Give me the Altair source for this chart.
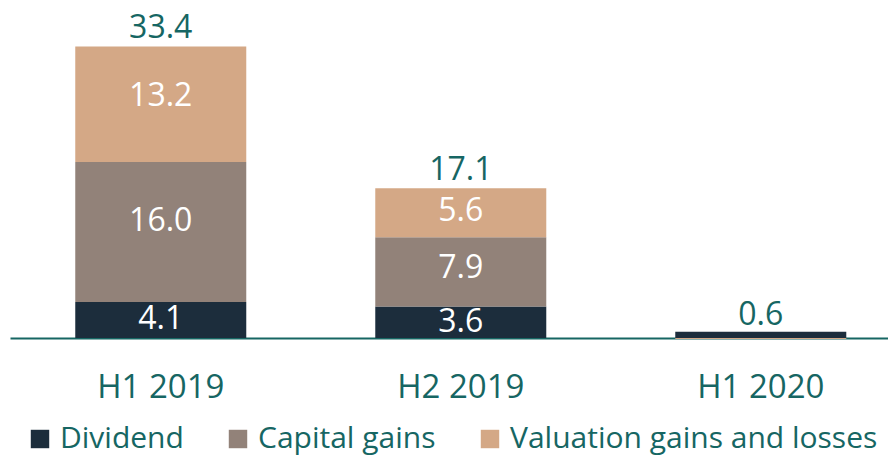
import altair as alt
import pandas as pd

categories = ["H1 2019", "H2 2019", "H1 2020"]
series = ["Dividend", "Capital gains", "Valuation gains and losses"]
dividend = [4.1, 3.6, 0.7]
capital_gains = [16.0, 7.9, 0.0]
valuation = [13.2, 5.6, -0.1]
totals = [33.4, 17.1, 0.6]

colors = ["#1c2d3c", "#928279", "#d4a886"]
teal = "#166663"
FONT = "Open Sans"

rows = []
for i, c in enumerate(categories):
    for j, (s, vals) in enumerate(zip(series, [dividend, capital_gains, valuation])):
        rows.append({"cat": c, "series": s, "order": j, "value": vals[i]})
df = pd.DataFrame(rows)
tot = pd.DataFrame({"cat": categories, "total": totals})

xscale = alt.Scale(paddingInner=0.43, paddingOuter=0.1783, align=0.61)
x_axis = alt.X(
    "cat:N", sort=categories, scale=xscale,
    axis=alt.Axis(title=None, labelFont=FONT, labelFontSize=33, labelColor=teal,
                  domainColor=teal, domainWidth=2, ticks=False, labelPadding=33,
                  labelAngle=0),
)
x_plain = alt.X("cat:N", sort=categories)
yscale = alt.Scale(domain=[0, 37.7])

bars = alt.Chart(df).mark_bar().encode(
    x=x_axis,
    y=alt.Y("value:Q", stack="zero", scale=yscale, axis=None),
    color=alt.Color(
        "series:N", sort=series,
        scale=alt.Scale(domain=series, range=colors),
        legend=alt.Legend(
            title=None, orient="none", legendX=15, legendY=416,
            direction="horizontal", symbolType="square", symbolSize=340,
            symbolStrokeWidth=0, labelFont=FONT, labelFontSize=30,
            labelColor=teal, labelLimit=600, columnPadding=39, labelOffset=5,
            padding=0,
        ),
    ),
    order=alt.Order("order:Q"),
)

inner = alt.Chart(df).transform_filter("datum.value >= 1").transform_stack(
    stack="value", groupby=["cat"], as_=["y0", "y1"], sort=[alt.SortField("order")]
).transform_calculate(
    pos="datum.y0 + 0.6 * datum.value", label="format(datum.value, '.1f')"
).mark_text(color="white", font=FONT, fontSize=32, baseline="middle", dy=3).encode(
    x=x_plain, y=alt.Y("pos:Q", scale=yscale), text="label:N"
)

tot_text = alt.Chart(tot).mark_text(
    color=teal, font=FONT, fontSize=32, baseline="middle", dy=-18
).encode(
    x=x_plain, y=alt.Y("total:Q", scale=yscale), text=alt.Text("total:Q", format=".1f")
)

chart = alt.layer(bars, inner, tot_text).properties(
    width=878, height=330,
    padding={"left": 2, "top": 0, "right": 0, "bottom": 118},
    autosize=alt.AutoSizeParams(type="none"),
).configure_view(stroke=None)

chart.save("out.html", embed_options={"renderer": "svg", "actions": False})
